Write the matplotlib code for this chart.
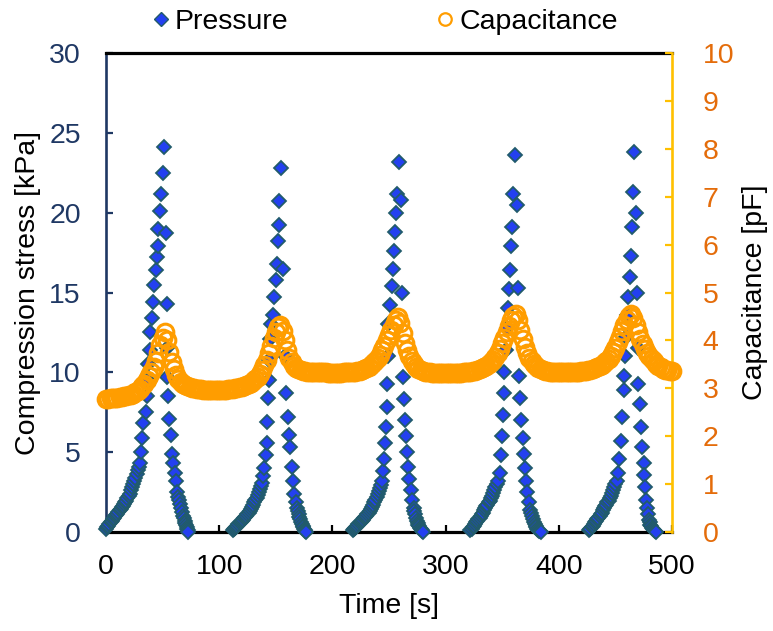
import matplotlib
matplotlib.use('Agg')
import matplotlib.pyplot as plt
from matplotlib.lines import Line2D
import numpy as np

plt.rcParams['font.family'] = ['Liberation Sans', 'DejaVu Sans']
plt.rcParams['font.size'] = 20.5

NAVY = '#1F3864'
BLUE = '#2340F0'
TEAL = '#215B6B'
ORANGE = '#FF9D00'
GOLD = '#FFC000'
TICK_ORANGE = '#E46C0A'

# pressure, 5 loading cycles (time [s], stress [kPa])
# slow start of each cycle is logged every second
p1_t = list(range(0, 30)) + [
    30, 31, 32, 33, 35, 36.5, 37, 37.5, 38.5, 39.2, 40.3, 41.8, 42.7, 44.0,
    44.7, 45.6, 46.2, 47.7, 48.6, 50.0, 51.5,
    53.0, 53.5, 53.8, 54.2, 55, 56, 57, 57.9, 59.5, 60.9, 61.8, 63, 64,
    64.8, 65.5, 66.2, 67.2, 68.3, 69.0, 69.5, 70.2, 70.7, 71.2, 71.7, 72.2, 72.7]
p1_v = [0.2, 0.3, 0.4, 0.5, 0.6, 0.7, 0.8, 0.9, 1.0, 1.08, 1.15, 1.25, 1.35, 1.45,
        1.55, 1.65, 1.75, 1.85, 1.95, 2.1, 2.25, 2.4, 2.6, 2.8, 3.0, 3.2, 3.4, 3.65,
        3.9, 4.1,
        4.3, 5.0, 5.9, 6.8, 7.5, 8.5, 9.5, 10.5, 11.4, 12.5, 13.4, 14.4, 15.5, 16.4,
        17.2, 17.9, 19.0, 20.1, 21.2, 22.5, 24.1,
        18.7, 14.3, 11.5, 9.7, 8.5, 7.1, 6.1, 4.9, 4.3, 3.7, 3.2, 2.5, 2.2,
        2.0, 1.75, 1.5, 1.25, 1.0, 0.85, 0.7, 0.55, 0.45, 0.32, 0.2, 0.1, 0.0]

p2_t = list(range(112, 139)) + [
    139, 140, 141, 142, 142.6, 143.2, 143.8, 144.3, 144.9, 146.2, 147.5, 148.3,
    150, 151, 152, 152.5, 153.2, 154.6,
    156.6, 157.8, 159, 160.5, 161.8, 162.7, 164, 165, 166.2, 167.5, 168.8,
    169.5, 170.2, 170.9, 171.6, 172.3, 173, 173.7, 174.3, 175, 175.5, 176.1, 176.6]
p2_v = [0.1, 0.18, 0.25, 0.33, 0.4, 0.48, 0.55, 0.63, 0.7, 0.78, 0.85, 0.92, 1.0,
        1.1, 1.2, 1.32, 1.45, 1.58, 1.7, 1.85, 2.0, 2.15, 2.3, 2.5, 2.7, 2.9, 3.1,
        3.5, 4.0, 4.8, 5.6, 6.9, 8.4, 9.5, 10.8, 12.1, 13.0, 13.6, 14.7,
        15.8, 16.8, 18.2, 19.2, 20.7, 22.8,
        16.5, 11.0, 8.7, 7.2, 6.1, 5.3, 4.1, 3.2, 2.4, 1.9, 1.5,
        1.3, 1.1, 0.95, 0.8, 0.65, 0.5, 0.4, 0.3, 0.2, 0.1, 0.05, 0.0]

p3_t = list(range(218, 245)) + [
    245, 246, 246.8, 247.4, 248, 248.3, 248.7, 249.4, 251, 252.3, 253.5,
    254.5, 255.5, 256.5, 257.3, 258.8,
    260.2, 261.2, 262.6, 263, 264, 265, 266, 267, 268, 269.2, 270.5, 271.8,
    272.5, 273.2, 273.9, 274.6, 275.3, 276, 276.7, 277.5, 278.2, 279, 279.5, 280]
p3_v = [0.1, 0.18, 0.25, 0.33, 0.4, 0.48, 0.55, 0.63, 0.7, 0.78, 0.85, 0.92, 1.0,
        1.1, 1.2, 1.32, 1.45, 1.58, 1.7, 1.85, 2.0, 2.17, 2.35, 2.55, 2.75, 2.97, 3.2,
        3.8, 4.6, 5.6, 6.6, 7.8, 9.3, 11.0, 13.0, 14.2, 15.4, 16.5,
        17.6, 18.8, 20.0, 21.2, 23.2,
        20.8, 15.0, 9.7, 8.3, 7.0, 6.0, 5.0, 4.1, 3.3, 2.6, 2.0, 1.5,
        1.3, 1.1, 0.9, 0.7, 0.55, 0.45, 0.35, 0.25, 0.17, 0.1, 0.05, 0.0]

p4_t = list(range(322, 347)) + [
    348, 348.7, 349.5, 351, 351.5, 352, 353, 354.5, 355.2, 356, 357, 358,
    358.8, 359.8, 361.3,
    363, 364, 365, 366, 367, 368, 369, 370, 371, 372.3, 373.6, 375, 375.7,
    376.5, 377.2, 378, 378.7, 379.5, 380.2, 381, 381.7, 382.5, 383.2, 384]
p4_v = [0.1, 0.2, 0.3, 0.4, 0.5, 0.6, 0.7, 0.8, 0.9, 1.0, 1.1, 1.22, 1.35, 1.48,
        1.6, 1.72, 1.85, 1.97, 2.1, 2.27, 2.45, 2.62, 2.8, 3.0, 3.2,
        3.7, 4.8, 6.0, 7.3, 8.7, 10.0, 11.4, 12.8, 14.0, 15.2, 16.4, 17.9,
        19.1, 21.2, 23.6,
        20.5, 15.3, 9.8, 8.4, 7.0, 5.9, 4.9, 4.0, 3.2, 2.5, 1.9, 1.4, 1.2,
        1.0, 0.82, 0.65, 0.52, 0.4, 0.3, 0.2, 0.13, 0.08, 0.04, 0.0]

p5_t = list(range(427, 452)) + [
    452.7, 453.5, 454.6, 455.5, 457.2, 457.8, 458.6, 459.3, 460, 461.4, 462.9,
    463.4, 464.4, 465.8, 466.4,
    468.2, 469.3, 469.8, 470.2, 471.7, 472.6, 473.9, 475, 475.7, 476.3, 477,
    478, 478.8, 479.6, 480.3, 481, 481.7, 482.5, 483.2, 484, 484.9, 485.9]
p5_v = [0.1, 0.2, 0.3, 0.4, 0.5, 0.6, 0.7, 0.8, 0.9, 1.0, 1.1, 1.22, 1.35, 1.48,
        1.6, 1.72, 1.85, 1.97, 2.1, 2.27, 2.45, 2.62, 2.8, 3.0, 3.2,
        3.7, 4.6, 5.7, 7.2, 8.9, 9.8, 11.0, 12.2, 13.6, 14.7, 16.0,
        17.3, 19.1, 21.3, 23.8,
        20.0, 15.0, 11.5, 9.3, 8.0, 6.6, 5.3, 4.3, 3.6, 2.8, 2.0,
        1.5, 1.1, 0.75, 0.6, 0.45, 0.35, 0.25, 0.17, 0.1, 0.05, 0.0]

pressure_t = p1_t + p2_t + p3_t + p4_t + p5_t
pressure_v = p1_v + p2_v + p3_v + p4_v + p5_v

# capacitance [pF], one sample every 2 s from 0 to 500 s
cap_t = np.arange(0, 501, 2)
cap_v = [
    2.78, 2.78, 2.79, 2.79, 2.80, 2.80, 2.81, 2.82, 2.83, 2.84,   # 0-18
    2.85, 2.87, 2.89, 2.92, 2.95, 2.99, 3.04, 3.10, 3.17, 3.25,   # 20-38
    3.34, 3.45, 3.58, 3.74, 3.90, 4.06, 4.18, 4.00, 3.76, 3.55,   # 40-58
    3.40, 3.28, 3.19, 3.13, 3.09, 3.06, 3.04, 3.02, 3.01, 3.00,   # 60-78
    2.99, 2.98, 2.98, 2.97, 2.97, 2.97, 2.96, 2.96, 2.96, 2.96,   # 80-98
    2.96, 2.96, 2.97, 2.97, 2.98, 2.98, 2.99, 3.00, 3.01, 3.02,   # 100-118
    3.03, 3.05, 3.07, 3.09, 3.12, 3.15, 3.19, 3.24, 3.30, 3.38,   # 120-138
    3.48, 3.60, 3.74, 3.89, 4.04, 4.17, 4.28, 4.32, 4.20, 4.00,   # 140-158
    3.80, 3.64, 3.54, 3.47, 3.43, 3.40, 3.38, 3.37, 3.36, 3.35,   # 160-178
    3.35, 3.34, 3.34, 3.34, 3.33, 3.33, 3.33, 3.33, 3.32, 3.32,   # 180-198
    3.32, 3.32, 3.32, 3.32, 3.32, 3.33, 3.33, 3.33, 3.34, 3.34,   # 200-218
    3.35, 3.36, 3.37, 3.38, 3.40, 3.42, 3.45, 3.48, 3.52, 3.57,   # 220-238
    3.63, 3.70, 3.79, 3.89, 4.00, 4.11, 4.22, 4.33, 4.43, 4.48,   # 240-258
    4.36, 4.15, 3.95, 3.80, 3.67, 3.58, 3.50, 3.45, 3.41, 3.38,   # 260-278
    3.36, 3.35, 3.34, 3.33, 3.32, 3.32, 3.31, 3.31, 3.31, 3.31,   # 280-298
    3.31, 3.31, 3.31, 3.31, 3.31, 3.32, 3.32, 3.32, 3.33, 3.33,   # 300-318
    3.34, 3.35, 3.36, 3.37, 3.38, 3.40, 3.42, 3.44, 3.47, 3.50,   # 320-338
    3.54, 3.59, 3.65, 3.73, 3.83, 3.94, 4.06, 4.18, 4.30, 4.42,   # 340-358
    4.51, 4.55, 4.42, 4.22, 4.03, 3.87, 3.74, 3.64, 3.56, 3.50,   # 360-378
    3.46, 3.43, 3.40, 3.38, 3.37, 3.36, 3.35, 3.35, 3.34, 3.34,   # 380-398
    3.34, 3.34, 3.34, 3.34, 3.34, 3.34, 3.34, 3.35, 3.35, 3.35,   # 400-418
    3.36, 3.36, 3.37, 3.38, 3.39, 3.40, 3.42, 3.44, 3.46, 3.49,   # 420-438
    3.52, 3.56, 3.61, 3.68, 3.76, 3.85, 3.96, 4.08, 4.20, 4.32,   # 440-458
    4.43, 4.51, 4.55, 4.46, 4.33, 4.17, 4.03, 3.92, 3.82, 3.74,   # 460-478
    3.67, 3.61, 3.56, 3.51, 3.47, 3.44, 3.41, 3.39, 3.38, 3.37,   # 480-498
    3.36]                                                          # 500

x_ticks = [0, 100, 200, 300, 400, 500]
left_ticks = [0, 5, 10, 15, 20, 25, 30]
right_ticks = list(range(0, 11))

fig = plt.figure(figsize=(7.73, 6.31), dpi=100)
ax = fig.add_axes([0.1371, 0.1569, 0.7322, 0.7591])
ax2 = ax.twinx()

ax.plot(pressure_t, pressure_v, linestyle='none', marker='D', markersize=7,
        markerfacecolor=BLUE, markeredgecolor=TEAL, markeredgewidth=1.3,
        clip_on=False, zorder=3)
ax2.plot(cap_t, cap_v, linestyle='none', marker='o', markersize=12,
         markerfacecolor='none', markeredgecolor=ORANGE, markeredgewidth=2.2,
         clip_on=False, zorder=3)

ax.set_xlim(0, 500)
ax.set_ylim(0, 30)
ax2.set_ylim(0, 10)
ax.set_xticks(x_ticks)
ax.set_yticks(left_ticks)
ax2.set_yticks(right_ticks)

ax.set_xlabel('Time [s]', labelpad=9)
ax.set_ylabel('Compression stress [kPa]', labelpad=6)
ax2.set_ylabel('Capacitance [pF]', labelpad=6)

# spines
ax.spines['left'].set_color(NAVY)
ax.spines['left'].set_linewidth(1.9)
ax.spines['bottom'].set_color('black')
ax.spines['bottom'].set_linewidth(2.3)
ax.spines['top'].set_color('black')
ax.spines['top'].set_linewidth(2.3)
ax.spines['right'].set_visible(False)
for s in ['left', 'top', 'bottom']:
    ax2.spines[s].set_visible(False)
ax2.spines['right'].set_color(GOLD)
ax2.spines['right'].set_linewidth(1.9)

ax.tick_params(axis='x', direction='in', length=5, width=1.6, color='black',
               pad=16, labelcolor='black')
ax.tick_params(axis='y', direction='in', length=5, width=1.6, color=NAVY,
               pad=18, labelcolor=NAVY)
ax2.tick_params(axis='y', direction='in', length=5, width=1.6, color=GOLD,
                pad=22, labelcolor=TICK_ORANGE)

handles = [
    Line2D([], [], linestyle='none', marker='D', markersize=7,
           markerfacecolor=BLUE, markeredgecolor=TEAL, markeredgewidth=1.0),
    Line2D([], [], linestyle='none', marker='o', markersize=9,
           markerfacecolor='none', markeredgecolor=ORANGE, markeredgewidth=1.6),
]
fig.legend(handles, ['Pressure', 'Capacitance'], loc='center',
           bbox_to_anchor=(0.498, 0.965), ncol=2, frameon=False,
           handlelength=0.6, handletextpad=0.2, columnspacing=5.2,
           fontsize=20.5)

fig.savefig('out.png', dpi=100)
